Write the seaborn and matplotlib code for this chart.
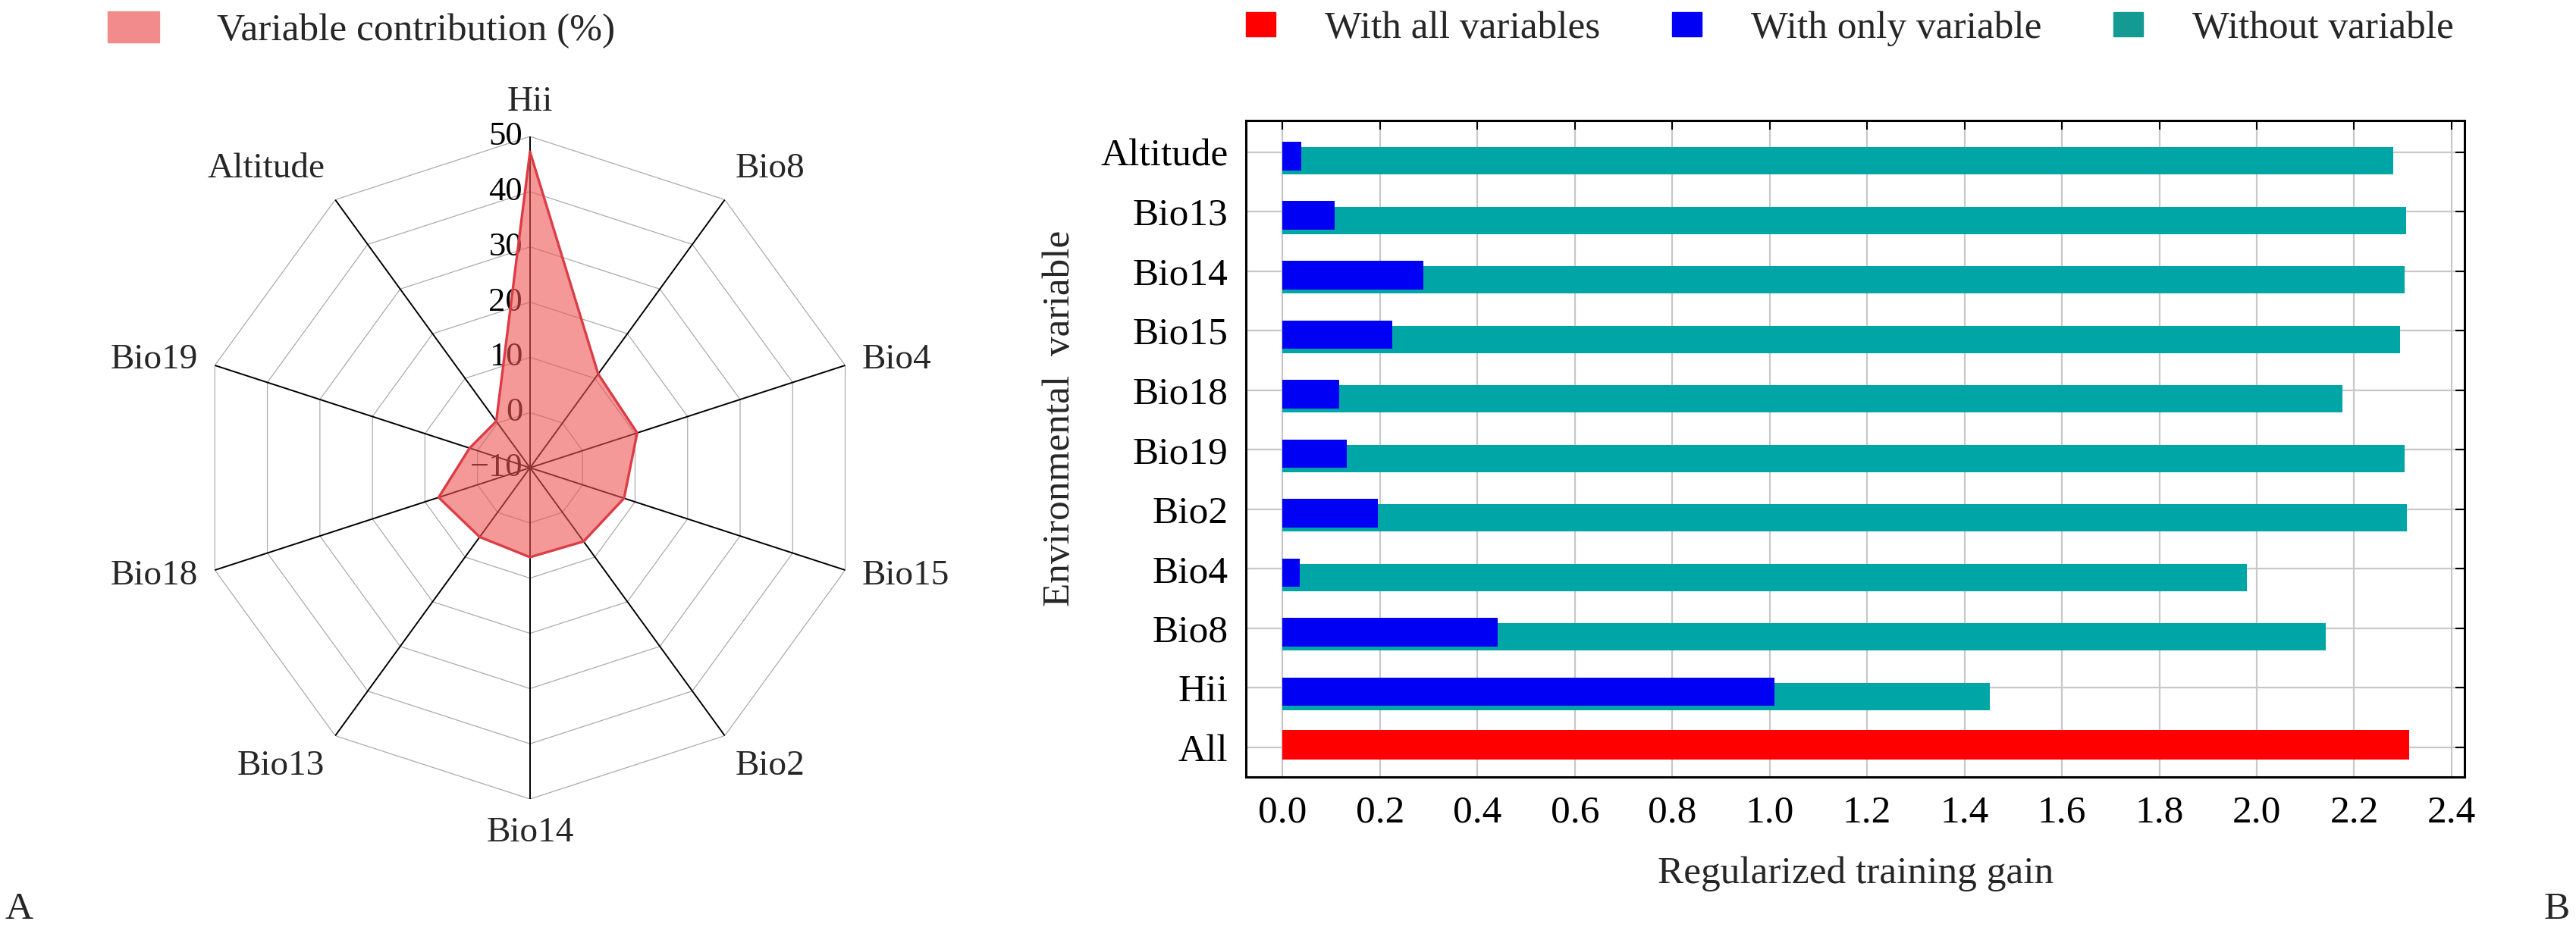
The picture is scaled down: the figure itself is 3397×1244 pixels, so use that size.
import numpy as np
import matplotlib
matplotlib.use('Agg')
import matplotlib.pyplot as plt
from matplotlib.patches import Patch
import seaborn as sns

# Panel A: percent contribution, clockwise from the top
radar_vars = ['Hii', 'Bio8', 'Bio4', 'Bio15', 'Bio2', 'Bio14', 'Bio13', 'Bio18', 'Bio19', 'Altitude']
contribution = [47.2, 11.0, 10.4, 7.9, 6.5, 6.2, 5.5, 7.4, 1.5, 0.4]
radial_ticks = [-10, 0, 10, 20, 30, 40, 50]

# Panel B: jackknife of regularized training gain, top to bottom
jack_vars = ['Altitude', 'Bio13', 'Bio14', 'Bio15', 'Bio18', 'Bio19', 'Bio2', 'Bio4', 'Bio8', 'Hii']
without_var = [2.281, 2.306, 2.303, 2.294, 2.176, 2.303, 2.309, 1.980, 2.141, 1.452]
only_var = [0.039, 0.107, 0.289, 0.226, 0.117, 0.132, 0.196, 0.035, 0.442, 1.010]
all_label = 'All'
all_gain = [2.313]
x_ticks = [0.0, 0.2, 0.4, 0.6, 0.8, 1.0, 1.2, 1.4, 1.6, 1.8, 2.0, 2.2, 2.4]

TEAL = '#00A5A5'
TEAL_LEG = '#139A93'
BLUE = '#0000F5'
RED = '#FF0000'
PINK = '#F28C8C'
FS = 37

sns.set_style('white')
plt.rcParams['font.family'] = ['Liberation Serif', 'DejaVu Serif']

fig = plt.figure(figsize=(33.97, 12.44), dpi=100)

# ---------------- radar (A) ----------------
ax1 = fig.add_axes([0.0771, 0.1527, 0.2573, 0.7026], projection='polar')
ax1.set_theta_zero_location('N')
ax1.set_theta_direction(-1)
ax1.set_ylim(-10, 50)

angles = np.linspace(0, 2 * np.pi, len(radar_vars), endpoint=False)
closed_ang = np.append(angles, angles[0])

# polygon rings and black spokes
for lvl in radial_ticks[1:]:
    ax1.plot(closed_ang, [lvl] * len(closed_ang), color='#ababab', lw=0.9, zorder=1)
for a in angles:
    ax1.plot([a, a], [radial_ticks[0], radial_ticks[-1]], color='black', lw=1.4, zorder=2)

vals = np.append(contribution, contribution[0])
ax1.fill(closed_ang, vals, color='#EE5353', alpha=0.6, lw=0, zorder=5)
ax1.plot(closed_ang, vals, color='#DC3C46', lw=2.4, zorder=6)

ax1.grid(False)
ax1.set_xticks([])
ax1.set_yticks([])
ax1.spines['polar'].set_visible(False)

for lvl in radial_ticks:
    ax1.annotate(str(lvl).replace('-', '\u2212'), xy=(0, lvl), xytext=(-7, 0),
                 textcoords='offset points', ha='right', va='center',
                 fontsize=32, color='black', zorder=3, annotation_clip=False)

pad = 17
for a, name in zip(angles, radar_vars):
    s, c = np.sin(a), np.cos(a)
    ha = 'center' if abs(s) < 0.1 else ('left' if s > 0 else 'right')
    va = 'bottom' if c > 0.5 else ('top' if c < -0.5 else 'center')
    ax1.annotate(name, xy=(a, radial_ticks[-1]), xytext=(s * pad, c * pad),
                 textcoords='offset points', ha=ha, va=va, fontsize=34,
                 annotation_clip=False)

fig.legend(handles=[Patch(color=PINK)], labels=['Variable contribution (%)'],
           loc='center left', bbox_to_anchor=(142 / 3397, 1 - 40 / 1244),
           frameon=False, fontsize=FS, handlelength=1.32, handleheight=0.84,
           handletextpad=1.48, borderpad=0, borderaxespad=0)

# ---------------- jackknife bars (B) ----------------
ax2 = fig.add_axes([0.4837, 0.176, 0.4731, 0.6961])
order = jack_vars + [all_label]

n0 = len(ax2.patches)
sns.barplot(x=without_var, y=jack_vars, order=order, color=TEAL, saturation=1,
            width=0.46, errorbar=None, orient='h', linewidth=0, ax=ax2)
for p in ax2.patches[n0:]:
    p.set_y(p.get_y() + 0.146)

n0 = len(ax2.patches)
sns.barplot(x=only_var, y=jack_vars, order=order, color=BLUE, saturation=1,
            width=0.48, errorbar=None, orient='h', linewidth=0, ax=ax2)
for p in ax2.patches[n0:]:
    p.set_y(p.get_y() + 0.065)

n0 = len(ax2.patches)
sns.barplot(x=all_gain, y=[all_label], order=order, color=RED, saturation=1,
            width=0.5, errorbar=None, orient='h', linewidth=0, ax=ax2)
for p in ax2.patches[n0:]:
    p.set_y(p.get_y() - 0.04)

ax2.set_xlim(-0.075, 2.427)
ax2.set_ylim(10.5, -0.53)
ax2.set_xticks(x_ticks)
ax2.set_xticklabels([f'{t:.1f}' for t in x_ticks])
ax2.set_axisbelow(True)
ax2.grid(True, color='#c8c8c8', lw=1.6)
ax2.tick_params(direction='in', top=True, right=True, length=8.5, width=1.5,
                labelsize=FS, pad=17, colors='black')
for sp in ax2.spines.values():
    sp.set_visible(True)
    sp.set_color('black')
    sp.set_linewidth(2.2)

ax2.set_xlabel('Regularized training gain', fontsize=FS)
ax2.set_ylabel('Environmental  variable', fontsize=FS)
ax2.xaxis.set_label_coords(0.5, -0.121)
ax2.yaxis.set_label_coords(-0.138, 0.547)

fig.legend(handles=[Patch(color=RED), Patch(color=BLUE), Patch(color=TEAL_LEG)],
           labels=['With all variables', 'With only variable', 'Without variable'],
           loc='center left', bbox_to_anchor=(1643 / 3397, 1 - 38 / 1244),
           ncol=3, frameon=False, fontsize=FS, handlelength=0.76, handleheight=0.58,
           handletextpad=1.26, columnspacing=1.85, borderpad=0, borderaxespad=0)

fig.text(0.002, 1 - 1200 / 1244, 'A', fontsize=FS, va='center', ha='left')
fig.text(3372 / 3397, 1 - 1200 / 1244, 'B', fontsize=FS, va='center', ha='center')

fig.savefig('out.png', dpi=100)
